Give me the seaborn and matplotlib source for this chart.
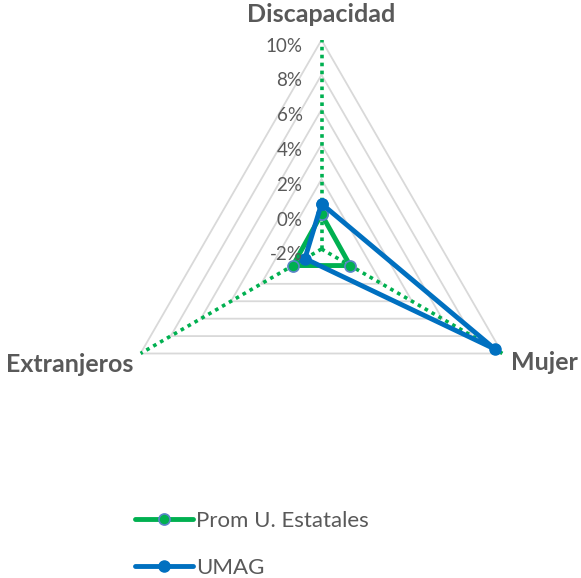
import numpy as np
import pandas as pd
import matplotlib
matplotlib.use("Agg")
import matplotlib.pyplot as plt
from matplotlib.transforms import offset_copy
from matplotlib.lines import Line2D
import seaborn as sns

# ---- data (percent) ----
categories = ["Discapacidad", "Mujer", "Extranjeros"]
prom_estatales = [0.0, -0.1, -0.1]
umag = [0.6, 9.5, -0.9]
ref_spokes = [10, 10, 10]          # dotted reference series (to axis max)
tick_values = [-2, 0, 2, 4, 6, 8, 10]
tick_labels = ["-2%", "0%", "2%", "4%", "6%", "8%", "10%"]

sns.set_style("white")
plt.rcParams["font.family"] = ["Lato", "DejaVu Sans"]

GREEN = "#00B050"
BLUE = "#0070C0"
GRID = "#D9D9D9"
TXT = "#595959"

W, H = 581, 578
fig = plt.figure(figsize=(W / 100, H / 100), dpi=100)
cx, cy, R = 321.5, 249, 209
ax = fig.add_axes([(cx - R) / W, (H - cy - R) / H, 2 * R / W, 2 * R / H], projection="polar")
ax.set_theta_zero_location("N")
ax.set_theta_direction(-1)
ax.set_ylim(tick_values[0], tick_values[-1])
ax.grid(False)
ax.spines["polar"].set_visible(False)
ax.set_xticks([])
ax.set_yticks([])
ax.patch.set_alpha(0)

n = len(categories)
angles = np.arange(n) * 2 * np.pi / n
closed = np.append(angles, angles[0])

# triangular grid
for v in tick_values[1:]:
    ax.plot(closed, [v] * (n + 1), color=GRID, lw=1.3, zorder=1)

# dotted reference spokes
for a, v in zip(angles, ref_spokes):
    ax.plot([a, a], [tick_values[0], v], color=GREEN, lw=2.6,
            linestyle=(0, (1, 1.2)), zorder=2)

def frame(vals, name):
    return pd.DataFrame({"theta": closed, "value": list(vals) + [vals[0]], "series": name})

df_p = frame(prom_estatales, "Prom U. Estatales")
df_u = frame(umag, "UMAG")

sns.lineplot(data=df_p, x="theta", y="value", sort=False, ax=ax, color=GREEN,
             lw=3.5, marker="o", markersize=8, markerfacecolor=GREEN,
             markeredgecolor="#5B84C8", markeredgewidth=1.2, zorder=3,
             legend=False, estimator=None)
sns.lineplot(data=df_u, x="theta", y="value", sort=False, ax=ax, color=BLUE,
             lw=3.5, marker="o", markersize=8, markerfacecolor=BLUE,
             markeredgecolor=BLUE, markeredgewidth=1.0, zorder=4,
             legend=False, estimator=None)
ax.set_xlabel("")
ax.set_ylabel("")
ax.set_ylim(tick_values[0], tick_values[-1])

# radial tick labels
tr = offset_copy(ax.transData, fig=fig, x=-19, y=-6, units="dots")
for v, lab in zip(tick_values, tick_labels):
    ax.text(0, v, lab, transform=tr, ha="right", va="center",
            fontsize=13.5, color=TXT, zorder=5)

# category labels
offs = [(0, 25, "center"), (9, -9, "left"), (-7, -11, "right")]
for a, cat, (dx, dy, ha) in zip(angles, categories, offs):
    t = offset_copy(ax.transData, fig=fig, x=dx, y=dy, units="dots")
    ax.text(a, tick_values[-1], cat, transform=t, ha=ha, va="center",
            fontsize=18, fontweight="bold", color=TXT)

# legend
handles = [
    Line2D([], [], color=GREEN, lw=3.5, marker="o", markersize=8,
           markerfacecolor=GREEN, markeredgecolor="#5B84C8", markeredgewidth=1.2),
    Line2D([], [], color=BLUE, lw=3.5, marker="o", markersize=8,
           markerfacecolor=BLUE, markeredgecolor=BLUE),
]
leg = fig.legend(handles, ["Prom U. Estatales", "UMAG"], loc="upper left",
                 bbox_to_anchor=(135 / W, 1 - 511 / H), frameon=False,
                 fontsize=16, handlelength=2.6, handletextpad=0.14,
                 labelspacing=1.2, borderaxespad=0, borderpad=0)
for t in leg.get_texts():
    t.set_color(TXT)

fig.savefig("out.png", dpi=100)
